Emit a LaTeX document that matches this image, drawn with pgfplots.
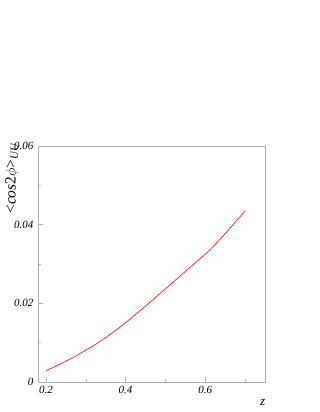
\documentclass[border=0pt]{standalone}
\usepackage{pgfplots}
\pgfplotsset{compat=1.18}
\usepackage{fontspec}
\setmainfont{Liberation Serif}
\begin{document}
\begin{tikzpicture}[x=1pt,y=1pt]
\path[use as bounding box] (0,0) rectangle (319,412);
\begin{axis}[
  at={(38pt,30pt)}, anchor=south west,
  scale only axis, width=227pt, height=236pt,
  xmin=0.18, xmax=0.75, ymin=0, ymax=0.06,
  scaled y ticks=false, scaled x ticks=false,
  xtick={0.2,0.4,0.6}, ytick={0,0.02,0.04,0.06},
  minor xtick={0.3,0.5,0.7}, minor ytick={0.01,0.03,0.05},
  xticklabels={\textit{0.2},\textit{0.4},\textit{0.6}},
  yticklabels={\textit{0},\textit{0.02},\textit{0.04},\textit{0.06}},
  xtick pos=bottom, ytick pos=left,
  tick align=inside, major tick length=5pt, minor tick length=3pt,
  axis line style={gray!60}, every tick/.style={gray!60},
  ticklabel style={font=\fontsize{11}{11}\selectfont},
  xticklabel style={yshift=-1pt},
  yticklabel style={xshift=-1pt},
  clip=false,
]
\addplot[red, line width=0.6pt] coordinates {
(0.2,0.0029) (0.225,0.0040) (0.25,0.0053) (0.275,0.0066) (0.3,0.0081) (0.325,0.0096) (0.35,0.0113) (0.375,0.0131) (0.4,0.0151) (0.425,0.0172) (0.45,0.0193) (0.475,0.0215) (0.5,0.0237) (0.525,0.0259) (0.55,0.0281) (0.575,0.0303) (0.6,0.0325) (0.61,0.0334) (0.63,0.0355) (0.65,0.0377) (0.675,0.0406) (0.7,0.0435)
};
\node[rotate=90, anchor=east, inner sep=0pt, font=\fontsize{15.5}{15.5}\selectfont] at (rel axis cs:-0.115,1.015) {<\textit{cos}2$\phi$>\textsubscript{\textit{UU}}};
\node[font=\itshape\fontsize{13}{13}\selectfont] at (rel axis cs:0.99,-0.085) {z};
\end{axis}
\end{tikzpicture}
\end{document}
